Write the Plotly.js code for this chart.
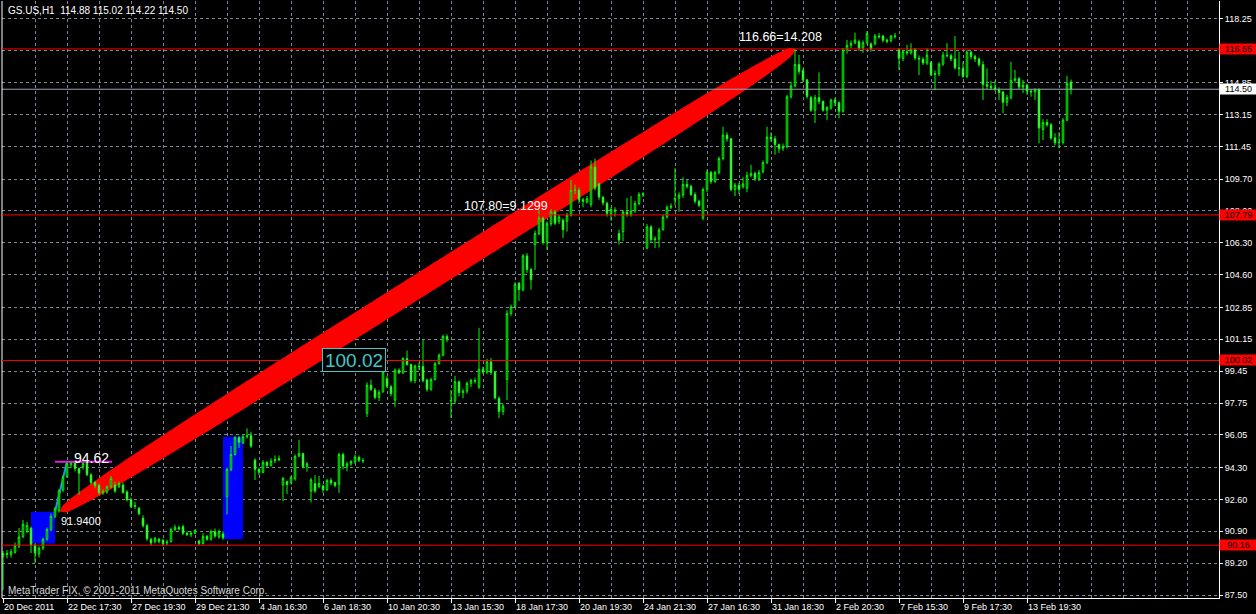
<!DOCTYPE html>
<html><head><meta charset="utf-8">
<script src="https://cdn.plot.ly/plotly-3.0.1.min.js"></script>
<style>html,body{margin:0;padding:0;background:#000;}#chart{width:1256px;height:614px;}</style>
</head><body><div id="chart"></div>
<script>
// ---------------- DATA ----------------
const symbolInfo = "GS.US,H1\u00A0\u00A0114.88 115.02 114.22 114.50";
const copyrightText = "MetaTrader FIX, \u00A9 2001-2011 MetaQuotes Software Corp.";

const openP = [89.55,89.72,89.66,89.78,90.10,90.60,90.90,91.06,90.17,89.70,90.00,90.48,91.00,91.70,92.00,93.10,93.82,94.45,94.58,94.25,
94.35,94.60,93.92,93.50,93.35,92.95,93.00,93.28,93.37,93.28,93.37,93.00,92.60,92.22,92.13,91.60,91.20,90.47,90.35,90.47,
90.42,90.28,90.35,91.00,91.10,91.15,90.80,90.72,90.80,90.38,90.25,90.63,90.48,90.88,90.60,90.76,92.75,94.20,95.00,95.90,
95.62,95.95,96.02,94.70,94.20,94.05,94.58,94.42,94.66,94.78,93.38,93.55,93.50,93.70,94.92,95.05,94.35,93.05,93.45,93.30,
93.32,93.12,93.62,93.50,93.42,95.00,94.38,94.50,94.60,94.85,94.68,97.20,98.70,98.45,98.05,98.35,99.05,98.62,97.90,99.50,
99.36,100.12,99.80,98.95,99.72,99.70,98.98,98.48,99.00,99.85,100.30,101.30,97.85,97.85,98.88,98.30,98.38,98.80,98.95,98.60,
99.55,99.40,99.95,99.38,98.00,97.30,99.00,102.52,102.90,104.15,103.80,105.60,104.87,106.20,106.80,107.62,106.36,107.32,107.95,107.45,
107.50,107.45,107.78,109.10,109.12,108.60,108.48,108.35,110.35,109.45,108.73,108.41,107.86,108.05,106.80,106.90,107.95,107.82,108.00,108.40,
108.88,106.02,107.15,106.47,106.50,107.00,107.68,108.20,108.60,108.68,108.85,109.42,109.32,108.88,108.52,107.62,109.15,110.05,109.58,110.05,
110.80,112.05,111.85,109.15,109.38,109.30,109.22,109.90,110.00,109.72,110.10,110.58,111.95,111.85,111.55,111.35,111.42,114.10,114.68,115.82,
115.50,115.00,114.05,113.38,114.05,113.85,113.38,113.50,113.92,113.78,113.32,116.60,116.85,116.97,117.04,116.70,116.98,116.92,116.92,117.34,
117.34,117.12,117.10,117.34,116.60,116.15,116.50,116.44,116.62,116.15,116.10,115.90,115.92,115.28,115.33,115.84,116.32,116.29,116.12,115.64,
115.60,115.18,116.48,116.25,116.12,115.82,114.75,114.66,114.58,114.48,114.35,113.80,114.05,114.98,115.06,114.62,114.72,114.40,114.36,114.48,
112.35,112.72,112.60,111.90,111.64,111.67,112.85,114.88];

const highP = [89.85,89.90,89.95,90.30,91.08,91.50,91.40,91.15,90.25,90.10,90.55,91.10,91.85,92.20,93.15,93.90,94.62,94.62,94.60,94.30,
94.60,94.62,94.00,93.60,93.45,93.15,93.35,93.85,93.55,93.55,93.50,93.10,92.70,92.48,92.20,91.75,91.30,90.55,90.60,90.55,
90.50,90.45,91.10,91.25,91.20,91.25,90.90,90.90,91.00,90.45,90.80,90.70,91.00,91.05,91.00,90.90,94.30,95.45,96.00,96.00,
96.05,96.40,96.22,94.80,94.30,94.70,94.65,94.80,94.95,94.95,93.80,93.60,93.85,95.00,95.78,95.10,94.60,93.75,93.90,93.85,
93.40,93.70,93.75,93.55,95.10,95.10,94.60,94.70,95.00,94.95,94.80,98.85,99.00,98.55,98.45,99.50,99.20,98.70,99.60,99.60,
100.20,100.55,99.85,99.80,99.90,101.15,99.05,99.10,99.95,100.40,101.40,101.42,98.45,99.20,98.95,98.50,98.90,99.05,99.10,101.75,
99.70,100.10,100.15,99.45,98.10,97.70,102.70,103.00,104.20,104.20,105.70,105.75,104.95,106.95,108.06,107.70,107.45,108.10,108.05,107.80,
107.60,107.90,109.66,109.40,109.25,108.70,108.80,110.70,110.80,109.50,108.80,108.50,108.20,108.20,107.00,108.05,108.70,108.80,108.55,109.00,
109.00,107.30,107.25,106.65,107.10,107.80,108.30,108.40,110.28,109.00,109.80,109.65,109.40,109.00,108.60,109.25,110.20,110.15,110.15,110.90,
112.50,112.20,111.90,109.50,109.50,109.80,110.10,110.46,110.10,110.20,110.70,112.50,112.20,112.00,111.60,111.60,114.20,114.90,116.66,116.33,
115.60,115.05,114.15,114.20,115.40,113.90,113.60,114.00,114.05,113.85,116.70,117.13,117.10,117.52,117.15,117.10,117.60,117.00,117.45,117.50,
117.40,117.20,117.40,117.50,116.70,116.60,116.86,116.95,116.70,116.30,116.20,116.69,116.00,115.50,115.95,116.50,116.96,116.40,117.35,116.50,
115.97,116.60,116.55,116.35,116.20,116.00,115.62,114.95,114.95,114.60,114.40,114.20,115.97,115.53,115.15,115.00,114.80,114.50,114.55,114.55,
112.90,112.90,112.70,112.15,112.20,112.95,115.21,115.02];

const lowP = [87.75,89.45,89.50,89.70,90.00,90.55,90.80,89.74,89.20,89.50,89.90,90.40,90.90,91.60,91.90,93.00,93.75,94.30,94.10,92.85,
94.20,93.85,93.40,93.20,92.85,92.85,92.90,93.20,92.95,93.20,92.90,92.50,92.15,92.10,91.75,91.10,90.40,90.15,90.25,90.25,
90.10,90.15,90.30,90.90,90.95,90.70,90.65,90.60,90.75,90.15,90.20,90.40,90.40,90.55,90.50,90.45,91.80,94.10,94.95,95.35,
95.55,95.85,95.35,93.64,93.90,94.00,94.30,94.35,94.55,94.65,92.50,92.90,93.40,93.60,94.85,94.25,94.08,92.45,92.95,93.20,
92.95,93.05,93.35,93.25,92.95,94.20,94.10,94.40,94.50,94.60,94.55,97.00,98.40,97.95,97.85,98.30,98.55,98.10,97.55,99.30,
99.30,99.75,98.85,98.80,99.50,98.85,98.35,98.40,98.95,99.80,100.25,101.00,96.95,97.70,98.10,98.00,98.25,98.60,98.80,98.50,
99.30,99.30,99.25,97.95,96.95,97.10,97.90,102.40,102.85,103.20,103.70,104.70,103.80,104.85,106.70,106.20,105.92,107.20,107.25,107.30,
106.56,106.90,107.70,108.90,108.40,108.20,108.40,108.20,109.10,108.60,108.30,107.70,107.48,107.70,106.20,106.40,107.70,107.70,107.90,108.30,
108.75,105.95,106.30,106.02,106.05,106.95,107.60,108.10,108.30,107.96,108.70,109.20,108.80,108.40,108.20,107.50,109.00,109.45,109.50,109.95,
110.70,111.70,109.05,108.80,108.90,109.20,109.00,109.80,109.60,109.60,110.00,110.50,111.70,111.00,111.10,111.20,111.35,114.00,114.60,115.30,
114.90,114.00,113.30,112.70,113.70,113.30,112.86,113.40,113.60,112.95,113.25,116.40,116.70,116.90,116.55,116.44,116.90,116.50,116.85,117.20,
117.00,116.95,117.00,117.20,115.53,116.00,116.30,116.35,116.05,115.26,115.80,115.80,115.20,114.46,115.20,115.75,116.20,116.00,115.55,115.20,
115.10,115.10,116.10,115.95,115.70,113.93,114.50,114.45,114.40,113.93,113.22,113.60,113.95,114.85,114.50,114.30,114.20,114.10,113.93,111.62,
111.79,112.50,111.80,111.50,111.35,111.55,112.80,114.22];

const closeP = [89.72,89.66,89.81,90.12,90.60,91.28,91.22,90.17,89.75,90.00,90.48,91.00,91.70,92.10,93.05,93.78,94.50,94.58,94.25,94.00,
94.52,93.92,93.50,93.35,92.95,93.02,93.28,93.72,93.05,93.45,92.98,92.58,92.22,92.28,91.84,91.20,90.50,90.28,90.52,90.37,
90.24,90.32,91.00,91.10,91.02,90.80,90.72,90.80,90.95,90.25,90.63,90.48,90.88,90.65,90.88,90.55,94.20,95.00,95.90,95.65,
95.95,96.00,95.45,94.20,94.05,94.58,94.42,94.65,94.74,94.72,93.72,93.40,93.78,94.90,95.05,94.35,94.50,93.65,93.05,93.45,
93.12,93.62,93.48,93.35,95.00,94.38,94.50,94.63,94.87,94.70,94.66,98.70,98.48,98.05,98.30,99.40,98.65,98.25,99.50,99.36,
100.12,99.80,98.95,99.72,99.70,98.95,98.48,99.00,99.85,100.30,101.30,101.18,97.88,98.88,98.30,98.38,98.80,98.95,98.92,99.55,
99.40,99.95,99.38,98.02,97.30,97.58,102.52,102.88,104.08,103.80,105.60,104.87,104.33,106.80,107.62,106.32,107.32,107.95,107.35,107.68,
107.00,107.78,109.10,109.12,108.60,108.52,108.66,110.35,109.22,108.75,108.43,107.86,108.08,108.00,106.45,107.95,107.82,108.00,108.40,108.88,
108.92,107.15,106.47,106.50,106.98,107.68,108.20,108.25,108.66,108.85,109.42,109.32,108.88,108.52,108.30,109.15,110.05,109.58,110.05,110.80,
112.05,111.85,109.15,109.38,109.15,109.45,109.90,110.00,109.72,110.05,110.58,111.95,111.85,111.55,111.32,111.42,114.10,114.68,115.82,115.45,
115.00,114.12,113.38,114.05,113.85,113.38,113.52,113.92,113.78,113.32,116.60,116.85,116.95,117.12,116.70,116.98,117.48,116.65,117.34,117.30,
117.12,117.06,117.34,117.32,116.15,116.50,116.44,116.62,116.17,116.12,115.90,116.32,115.28,115.33,115.84,116.32,116.29,116.12,115.64,115.60,
115.18,116.48,116.25,116.12,115.82,114.75,114.66,114.58,114.48,114.33,113.80,114.05,114.98,115.06,114.62,114.72,114.40,114.36,114.48,112.43,
112.72,112.60,111.90,111.64,111.67,112.85,114.80,114.50];

const dateLabels = ["20 Dec 2011","22 Dec 17:30","27 Dec 19:30","29 Dec 21:30","4 Jan 16:30","6 Jan 18:30",
  "10 Jan 20:30","13 Jan 15:30","18 Jan 17:30","20 Jan 19:30","24 Jan 21:30","27 Jan 16:30",
  "31 Jan 18:30","2 Feb 20:30","7 Feb 15:30","9 Feb 17:30","13 Feb 19:30"];
const barsPerLabel = 16;
const priceTicks = [87.50,89.20,90.90,92.60,94.30,96.05,97.75,99.45,101.15,102.85,104.60,106.30,108.00,109.70,111.45,113.15,114.85,116.55,118.25];

const levelLines = [116.65, 107.79, 100.02, 90.16];   // red horizontal lines
const bidPrice = 114.50;
const ellipseFrom = [14.25, 91.94];   // [bar, price]
const ellipseTo = [198, 116.66];
const trendFrom = [13, 91.94];
const trendTo = [16, 94.62];
const highMark = {price: 94.62, bars: [13, 27.25]};
const blueBox1 = {bars: [7, 13], prices: [90.25, 91.94]};
const blueBox2 = {bars: [55, 60], prices: [90.47, 95.95]};
const priceLabel = {price: 100.02, bar: 79.75, lineBars: [95.75, 98.25]};
const fibLabels = [
  {text: "107.80=9.1299", bar: 114.7, price: 107.80},
  {text: "116.66=14.208", bar: 183.4, price: 116.66}
];

// ---------------- LAYOUT ----------------
const W = 1256, H = 614;
const M = {l: 2, r: 37, t: 1, b: 16};
const PLOT_W = W - M.l - M.r, PLOT_H = H - M.t - M.b;
const X_RANGE = [-0.25, 304];
const Y_RANGE = [87.34, 119.21];
const FONT = "Liberation Sans, Arial, sans-serif";
const GRID = "#778899";

const bars = openP.map((_, i) => i);
const tickBars = dateLabels.map((_, i) => i * barsPerLabel);

function px2paperX(px) { return (px - M.l) / PLOT_W; }
function py2paperY(py) { return 1 - (py - M.t) / PLOT_H; }

function bandPath(a, b, halfPx, expo, steps) {
  const kx = PLOT_W / (X_RANGE[1] - X_RANGE[0]);
  const ky = PLOT_H / (Y_RANGE[1] - Y_RANGE[0]);
  const hx = (b[0] - a[0]) * kx / 2, hy = (b[1] - a[1]) * ky / 2;
  const len = Math.hypot(hx, hy);
  const nx = -hy / len, ny = hx / len;
  const cx = (a[0] + b[0]) / 2, cy = (a[1] + b[1]) / 2;
  const up = [], dn = [];
  for (let k = 0; k <= steps; k++) {
    const t = -1 + 2 * k / steps;
    const w = halfPx * Math.pow(Math.max(0, 1 - Math.pow(Math.abs(t), expo)), 1 / expo);
    up.push([cx + (hx * t + nx * w) / kx, cy + (hy * t + ny * w) / ky]);
    dn.push([cx + (hx * t - nx * w) / kx, cy + (hy * t - ny * w) / ky]);
  }
  const pts = up.concat(dn.reverse());
  return "M " + pts.map(p => p[0].toFixed(3) + "," + p[1].toFixed(4)).join(" L ") + " Z";
}

const trace = {
  type: "candlestick",
  x: bars, open: openP, high: highP, low: lowP, close: closeP,
  increasing: {line: {color: "#00FF00", width: 1}, fillcolor: "#000000"},
  decreasing: {line: {color: "#00FF00", width: 1}, fillcolor: "#FFFFFF"},
  whiskerwidth: 0, hoverinfo: "skip", showlegend: false
};

const shapes = [
  {type: "rect", xref: "x", yref: "y", x0: blueBox1.bars[0], x1: blueBox1.bars[1], y0: blueBox1.prices[0], y1: blueBox1.prices[1],
   fillcolor: "#0000FF", line: {width: 0}, layer: "between"},
  {type: "rect", xref: "x", yref: "y", x0: blueBox2.bars[0], x1: blueBox2.bars[1], y0: blueBox2.prices[0], y1: blueBox2.prices[1],
   fillcolor: "#0000FF", line: {width: 0}, layer: "between"},
  {type: "path", xref: "x", yref: "y", path: bandPath(ellipseFrom, ellipseTo, 11.5, 3, 200),
   fillcolor: "#FF0000", line: {width: 0}, layer: "between"},
  {type: "line", xref: "x", yref: "y", x0: trendFrom[0], y0: trendFrom[1], x1: trendTo[0], y1: trendTo[1],
   line: {color: "#1E90FF", width: 2}, layer: "between"},
  {type: "line", xref: "x", yref: "y", x0: highMark.bars[0], x1: highMark.bars[1], y0: highMark.price, y1: highMark.price,
   line: {color: "#E020E0", width: 2}, layer: "above"},
  {type: "line", xref: "x", yref: "y", x0: priceLabel.lineBars[0], x1: priceLabel.lineBars[1], y0: priceLabel.price, y1: priceLabel.price,
   line: {color: "#40C8C8", width: 1}, layer: "above"},
  {type: "line", xref: "paper", yref: "y", x0: 0, x1: 1, y0: bidPrice, y1: bidPrice,
   line: {color: "#9AA4B4", width: 1}, layer: "above"},
  {type: "line", xref: "paper", yref: "paper", x0: 0, x1: 0, y0: 0, y1: 1,
   line: {color: "#FFFFFF", width: 1}, layer: "above"}
];
levelLines.forEach(v => shapes.push({type: "line", xref: "paper", yref: "y", x0: 0, x1: 1, y0: v, y1: v,
  line: {color: "#FF0000", width: 1}, layer: "above"}));

const annotations = [
  {xref: "paper", yref: "paper", x: px2paperX(6), y: py2paperY(10.5), xanchor: "left", yanchor: "middle",
   text: symbolInfo, showarrow: false, font: {family: FONT, size: 10, color: "#FFFFFF"}},
  {xref: "paper", yref: "paper", x: px2paperX(6), y: py2paperY(590), xanchor: "left", yanchor: "middle",
   text: copyrightText, showarrow: false, font: {family: FONT, size: 10, color: "#D8D8D8"}},
  {xref: "x", yref: "y", x: 17.25, y: highMark.price, yshift: 4, xanchor: "left", yanchor: "middle",
   text: highMark.price.toFixed(2), showarrow: false, font: {family: FONT, size: 14, color: "#FFFFFF"}},
  {xref: "x", yref: "y", x: 14.0, y: ellipseFrom[1], yshift: -9.5, xanchor: "left", yanchor: "middle",
   text: ellipseFrom[1].toFixed(4), showarrow: false, font: {family: FONT, size: 11, color: "#FFFFFF"}},
  {xref: "x", yref: "y", x: priceLabel.bar, y: priceLabel.price, xanchor: "left", yanchor: "middle",
   text: priceLabel.price.toFixed(2), showarrow: false, width: 62, height: 22, borderpad: 0,
   bordercolor: "#40C8C8", borderwidth: 1, bgcolor: "#000000",
   font: {family: FONT, size: 19, color: "#40C8C8"}}
];
const fibShift = [9, 12];
fibLabels.forEach((f, i) => annotations.push({xref: "x", yref: "y", x: f.bar, y: f.price, yshift: fibShift[i],
  xanchor: "left", yanchor: "middle", text: f.text, showarrow: false,
  font: {family: FONT, size: 12.5, color: "#FFFFFF"}}));
// right axis price boxes
levelLines.forEach(v => annotations.push({xref: "paper", yref: "y", x: 1, y: v, xanchor: "left", yanchor: "middle",
  text: v.toFixed(2), showarrow: false, width: 37, height: 10, borderpad: 0, bgcolor: "#FF0000", align: "center",
  font: {family: FONT, size: 9, color: "#000000"}}));
annotations.push({xref: "paper", yref: "y", x: 1, y: bidPrice, xanchor: "left", yanchor: "middle",
  text: bidPrice.toFixed(2), showarrow: false, width: 37, height: 10, borderpad: 0, bgcolor: "#FFFFFF", align: "center",
  font: {family: FONT, size: 9, color: "#000000"}});

const layout = {
  width: W, height: H, margin: M,
  paper_bgcolor: "#000000", plot_bgcolor: "#000000",
  showlegend: false, boxgap: 0.45,
  font: {family: FONT, size: 9, color: "#FFFFFF"},
  xaxis: {
    range: X_RANGE, rangeslider: {visible: false}, fixedrange: true,
    tickmode: "array", tickvals: tickBars, ticktext: dateLabels,
    ticks: "outside", ticklen: 4, tickcolor: "#FFFFFF", tickfont: {family: FONT, size: 9, color: "#FFFFFF"},
    ticklabelposition: "outside right",
    showgrid: true, gridcolor: GRID, griddash: "3px,3px", gridwidth: 1,
    minor: {tickmode: "linear", tick0: 0, dtick: 8, showgrid: true, gridcolor: GRID, griddash: "3px,3px", ticklen: 0},
    showline: true, linecolor: "#FFFFFF", linewidth: 1, zeroline: false
  },
  yaxis: {
    range: Y_RANGE, side: "right", fixedrange: true,
    tickmode: "array", tickvals: priceTicks, ticktext: priceTicks.map(v => v.toFixed(2)),
    ticks: "outside", ticklen: 3, tickcolor: "#FFFFFF", tickfont: {family: FONT, size: 9, color: "#FFFFFF"},
    showgrid: true, gridcolor: GRID, griddash: "3px,3px", gridwidth: 1,
    showline: true, linecolor: "#FFFFFF", linewidth: 1, zeroline: false
  },
  shapes: shapes,
  annotations: annotations
};

Plotly.newPlot("chart", [trace], layout, {staticPlot: true, displayModeBar: false});
</script>
</body></html>
